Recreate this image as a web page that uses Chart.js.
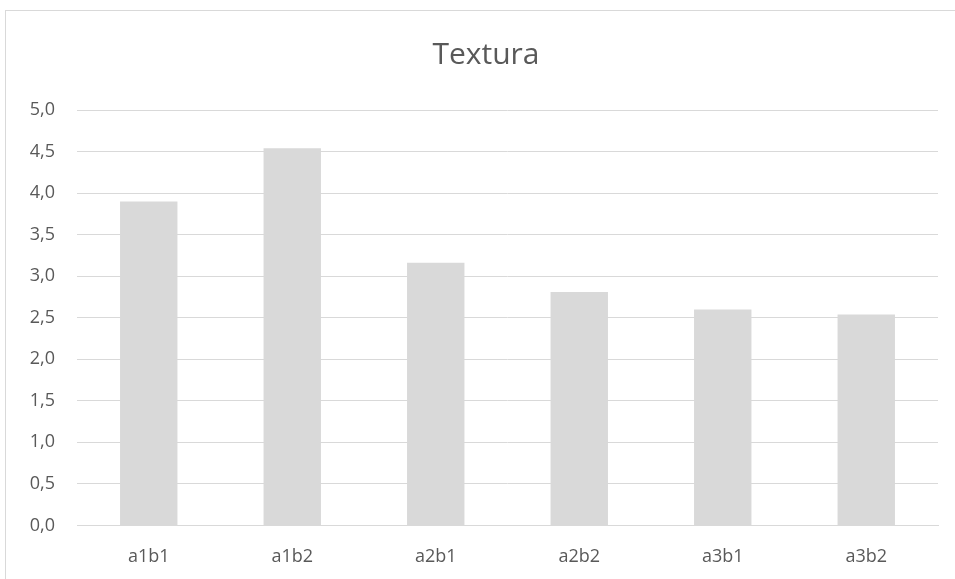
<!DOCTYPE html>
<html>
<head>
<meta charset="utf-8">
<script src="https://cdn.jsdelivr.net/npm/chart.js@4"></script>
<style>
  html, body { margin: 0; padding: 0; background: #fff; overflow: hidden; }
  #frame {
    position: absolute; left: 5px; top: 10px; width: 960px; height: 569px;
    border-left: 1px solid #d9d9d9; border-top: 1px solid #d9d9d9;
  }
  #chart { display: block; width: 960px; height: 569px; }
  #title {
    position: absolute; left: 0; top: 24px; width: 960px; text-align: center;
    font-family: 'Open Sans', sans-serif; font-size: 30px; line-height: 36px; color: #595959;
  }
</style>
</head>
<body>
<div id="frame">
  <canvas id="chart" width="960" height="569"></canvas>
  <div id="title">Textura</div>
</div>
<script>
// chart data
const categories = ['a1b1', 'a1b2', 'a2b1', 'a2b2', 'a3b1', 'a3b2'];
const textura = [3.90, 4.54, 3.16, 2.81, 2.60, 2.54];
const yTicks = [0, 0.5, 1, 1.5, 2, 2.5, 3, 3.5, 4, 4.5, 5];

const ctx = document.getElementById('chart').getContext('2d');

new Chart(ctx, {
  type: 'bar',
  data: {
    labels: categories,
    datasets: [{
      label: 'Textura',
      data: textura,
      backgroundColor: '#d9d9d9',
      borderWidth: 0,
      barPercentage: 0.4,
      categoryPercentage: 1
    }]
  },
  options: {
    responsive: false,
    animation: false,
    layout: { padding: { left: 0, right: 28, top: 99, bottom: -9 } },
    plugins: {
      legend: { display: false },
      tooltip: { enabled: false },
      title: { display: false }
    },
    scales: {
      x: {
        grid: { display: false, drawTicks: false },
        border: { display: true, color: '#d9d9d9', width: 1 },
        ticks: {
          color: '#595959',
          font: { family: 'Open Sans', size: 18 },
          padding: 21
        }
      },
      y: {
        min: 0,
        max: 5,
        afterBuildTicks: axis => { axis.ticks = yTicks.map(v => ({ value: v })); },
        afterFit: axis => { axis.width = 71; },
        grid: { color: '#d9d9d9', lineWidth: 1, drawTicks: false },
        border: { display: false },
        ticks: {
          color: '#595959',
          font: { family: 'Open Sans', size: 18 },
          padding: 22,
          callback: value => value.toFixed(1).replace('.', ',')
        }
      }
    }
  }
});
</script>
</body>
</html>
